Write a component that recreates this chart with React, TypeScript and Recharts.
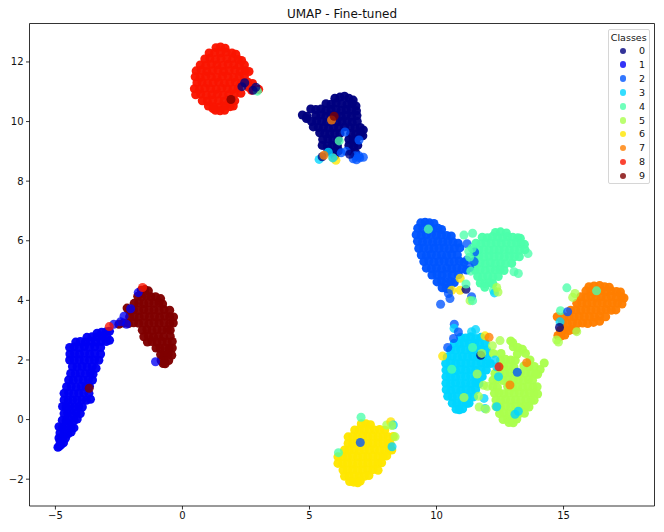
import React from 'react';
import { ScatterChart, Scatter, XAxis, YAxis, ZAxis, ReferenceArea, Cell } from 'recharts';

type P = [number, number];

const classNames = ['0', '1', '2', '3', '4', '5', '6', '7', '8', '9'];
const classColors = ['#00007f', '#0000f5', '#0055ff', '#00d5ff', '#4cffaa', '#aaff4d', '#ffe600', '#ff7e00', '#fa1500', '#7f0000'];
const xTicks = [-5, 0, 5, 10, 15];
const yTicks = [-2, 0, 2, 4, 6, 8, 10, 12];

const class0: P[] = [
[6.0,10.78],[6.2,10.82],[6.38,10.85],[6.55,10.78],[6.72,10.72],
[5.65,10.6],[5.85,10.58],[6.05,10.62],[6.27,10.6],[6.48,10.58],[6.68,10.6],[6.83,10.52],
[5.05,10.42],[5.25,10.4],[5.45,10.42],[5.65,10.38],[5.85,10.4],[6.05,10.4],[6.25,10.38],[6.45,10.4],[6.65,10.38],[6.85,10.36],
[4.72,10.22],[4.9,10.18],[5.25,10.2],[5.45,10.22],[5.65,10.18],[5.85,10.2],[6.05,10.2],[6.25,10.18],[6.45,10.2],[6.65,10.18],[6.87,10.2],
[4.88,10.1],[5.08,10.0],[5.28,10.02],[5.48,10.0],[5.68,9.98],[5.88,10.0],[6.08,9.98],[6.28,10.0],[6.48,10.0],[6.68,9.98],[6.88,10.0],
[5.15,9.82],[5.35,9.8],[5.55,9.8],[5.75,9.78],[5.95,9.8],[6.15,9.8],[6.38,9.82],[6.6,9.8],[6.8,9.78],[7.0,9.8],[7.12,9.72],
[5.4,9.62],[5.6,9.6],[5.8,9.58],[6.0,9.6],[6.2,9.6],[6.62,9.6],[6.82,9.58],[7.02,9.6],[7.1,9.52],
[5.52,9.4],[5.72,9.42],[5.92,9.38],[6.12,9.4],[6.55,9.4],[6.72,9.38],[6.85,9.42],
[5.5,9.2],[5.7,9.18],[5.9,9.2],[6.1,9.18],[6.55,9.2],[6.75,9.18],[6.9,9.2],
[5.78,9.0],[5.98,8.98],[6.15,9.02],[6.62,9.0],[6.82,8.95],[6.0,8.85],[5.72,9.05]
];

const class1: P[] = [
[-4.9,-0.93],[-4.85,-0.9],[-4.78,-0.85],[-4.68,-0.78],[-4.82,-0.72],
[-4.86,-0.62],[-4.72,-0.66],[-4.6,-0.62],[-4.82,-0.45],[-4.65,-0.46],[-4.5,-0.48],[-4.38,-0.42],
[-4.86,-0.24],[-4.72,-0.26],[-4.55,-0.22],[-4.38,-0.25],[-4.27,-0.28],
[-4.73,-0.02],[-4.58,-0.04],[-4.42,0.0],[-4.26,-0.03],[-4.14,0.02],
[-4.66,0.2],[-4.52,0.22],[-4.35,0.2],[-4.18,0.22],[-4.02,0.2],
[-4.72,0.44],[-4.58,0.42],[-4.42,0.45],[-4.25,0.42],[-4.08,0.44],[-3.94,0.42],
[-4.66,0.66],[-4.5,0.64],[-4.32,0.66],[-4.14,0.65],[-3.96,0.67],[-3.78,0.65],[-3.62,0.68],
[-4.66,0.88],[-4.48,0.9],[-4.28,0.87],[-4.08,0.88],[-3.88,0.9],[-3.68,0.88],
[-4.56,1.1],[-4.38,1.12],[-4.18,1.08],[-3.98,1.12],[-3.8,1.1],[-3.66,1.12],
[-4.48,1.33],[-4.3,1.32],[-4.1,1.35],[-3.9,1.32],[-3.7,1.34],[-3.54,1.33],
[-4.4,1.55],[-4.22,1.54],[-4.02,1.56],[-3.82,1.54],[-3.62,1.56],[-3.52,1.52],
[-4.33,1.78],[-4.15,1.77],[-3.95,1.79],[-3.75,1.76],[-3.55,1.78],[-3.4,1.72],
[-4.44,2.0],[-4.26,1.99],[-4.06,2.01],[-3.86,1.98],[-3.66,2.0],[-3.46,2.0],[-3.29,1.99],
[-4.43,2.2],[-4.25,2.22],[-4.05,2.2],[-3.85,2.23],[-3.65,2.2],[-3.45,2.22],[-3.22,2.2],
[-4.44,2.42],[-4.26,2.44],[-4.06,2.42],[-3.86,2.45],[-3.66,2.43],[-3.45,2.44],[-3.22,2.42],
[-4.2,2.6],[-4.02,2.62],[-3.82,2.6],[-3.62,2.63],[-3.42,2.6],[-3.2,2.62],[-3.0,2.62],[-2.87,2.66],
[-3.76,2.76],[-3.56,2.78],[-3.36,2.78],[-3.16,2.8],[-2.98,2.78],[-3.36,2.9],[-3.18,2.93],[-3.0,2.95],[-2.87,2.96]
];

const class2: P[] = [
[9.38,6.6],[9.55,6.62],[9.72,6.6],[9.9,6.58],
[9.26,6.42],[9.46,6.4],[9.66,6.44],[9.86,6.4],[10.06,6.42],[10.2,6.38],
[9.2,6.2],[9.4,6.18],[9.6,6.2],[9.8,6.22],[10.0,6.18],[10.2,6.2],[10.4,6.18],[10.58,6.16],
[9.25,5.98],[9.45,5.96],[9.65,5.98],[9.85,5.95],[10.05,5.98],[10.25,5.96],[10.45,5.98],[10.65,5.96],[10.85,5.92],
[9.3,5.74],[9.5,5.76],[9.7,5.72],[9.9,5.75],[10.1,5.74],[10.3,5.76],[10.5,5.72],[10.7,5.74],[10.92,5.76],
[9.4,5.52],[9.6,5.5],[9.8,5.54],[10.0,5.5],[10.2,5.52],[10.4,5.5],[10.6,5.54],[10.82,5.52],
[9.5,5.3],[9.7,5.32],[9.9,5.28],[10.1,5.3],[10.3,5.32],[10.5,5.28],[10.7,5.3],[10.9,5.32],[11.08,5.28],
[9.6,5.08],[9.8,5.06],[10.0,5.08],[10.2,5.05],[10.4,5.08],[10.6,5.06],[10.8,5.08],[11.0,5.06],[11.18,5.02],
[9.82,4.85],[10.02,4.86],[10.22,4.84],[10.42,4.87],[10.62,4.85],[10.86,4.86],
[10.02,4.62],[10.2,4.64],[10.38,4.6],[10.55,4.63],[10.7,4.6],
[10.22,4.42],[10.38,4.4],[10.5,4.38]
];

const class3: P[] = [
[10.95,2.76],[11.15,2.74],[11.35,2.78],[11.55,2.72],[11.75,2.76],
[10.7,2.56],[10.9,2.54],[11.1,2.57],[11.3,2.55],[11.5,2.56],[11.7,2.53],[11.92,2.56],
[10.55,2.34],[10.75,2.32],[10.95,2.35],[11.15,2.33],[11.35,2.34],[11.55,2.32],[11.75,2.35],[11.98,2.33],
[10.42,2.1],[10.62,2.12],[10.82,2.09],[11.02,2.12],[11.22,2.1],[11.42,2.12],[11.62,2.09],[11.82,2.12],[11.98,2.1],
[10.36,1.88],[10.56,1.9],[10.76,1.87],[10.96,1.9],[11.16,1.88],[11.36,1.9],[11.56,1.87],[11.76,1.9],[11.96,1.88],[12.12,1.88],
[10.37,1.66],[10.55,1.67],[10.75,1.65],[10.95,1.68],[11.15,1.66],[11.35,1.67],[11.55,1.65],[11.75,1.68],[11.96,1.66],
[10.37,1.44],[10.55,1.45],[10.75,1.43],[10.95,1.46],[11.15,1.44],[11.35,1.45],[11.55,1.43],[11.8,1.44],
[10.37,1.22],[10.55,1.2],[10.75,1.23],[10.95,1.2],[11.15,1.22],[11.35,1.2],[11.55,1.23],[11.68,1.2],
[10.38,1.0],[10.56,0.98],[10.76,1.01],[10.96,0.98],[11.16,1.0],[11.36,0.98],[11.54,1.0],
[10.44,0.78],[10.62,0.76],[10.82,0.79],[11.02,0.76],[11.22,0.78],[11.46,0.76],
[10.62,0.55],[10.8,0.53],[11.0,0.56],[11.18,0.54],[11.28,0.55],
[10.77,0.35],[10.9,0.33],[11.03,0.36]
];

const class4: P[] = [
[12.32,6.28],[12.52,6.3],[12.75,6.26],
[11.8,6.12],[12.0,6.1],[12.2,6.14],[12.4,6.12],[12.6,6.1],[12.8,6.14],[13.0,6.12],[13.2,6.1],[13.3,6.08],
[11.55,5.92],[11.75,5.9],[11.95,5.93],[12.15,5.9],[12.35,5.92],[12.55,5.9],[12.75,5.93],[12.95,5.9],[13.15,5.92],[13.33,5.9],[13.46,5.88],
[11.47,5.7],[11.67,5.68],[11.87,5.71],[12.07,5.68],[12.27,5.7],[12.47,5.68],[12.67,5.71],[12.87,5.68],[13.07,5.7],[13.27,5.68],[13.48,5.7],
[11.47,5.46],[11.67,5.48],[11.87,5.45],[12.07,5.48],[12.27,5.46],[12.47,5.48],[12.67,5.45],[12.87,5.48],[13.07,5.46],[13.26,5.46],
[11.52,5.24],[11.72,5.25],[11.92,5.23],[12.12,5.26],[12.32,5.24],[12.52,5.25],[12.72,5.23],[12.96,5.24],
[11.52,5.02],[11.72,5.03],[11.92,5.01],[12.12,5.04],[12.32,5.02],[12.5,5.03],[12.66,5.0],
[11.62,4.8],[11.82,4.78],[12.02,4.81],[12.22,4.78],[12.43,4.8],
[11.72,4.58],[11.9,4.56],[12.08,4.59],[12.22,4.56],[11.9,4.44]
];

const class5: P[] = [
[12.92,2.64],[13.0,2.58],[13.02,2.44],[13.2,2.42],[13.38,2.36],
[12.24,2.22],[12.54,2.22],[13.18,2.2],[13.5,2.22],[12.52,2.0],[12.72,2.02],[12.92,2.0],[13.1,1.98],[13.68,2.0],
[12.65,1.78],[12.85,1.8],[13.05,1.76],[13.44,1.8],[13.64,1.76],[13.85,1.78],[14.24,1.9],[14.08,1.68],[13.98,1.52],
[12.3,1.55],[12.5,1.56],[12.7,1.54],[12.9,1.57],[13.1,1.55],[13.3,1.56],[13.5,1.54],[13.72,1.56],[13.9,1.52],
[12.22,1.32],[12.4,1.34],[12.62,1.31],[12.82,1.34],[13.02,1.32],[13.22,1.34],[13.42,1.31],[13.62,1.34],[13.78,1.32],
[12.22,1.1],[12.4,1.08],[12.8,1.11],[13.0,1.08],[13.2,1.1],[13.4,1.08],[13.6,1.11],[13.8,1.08],[13.96,1.1],
[12.28,0.88],[12.46,0.9],[12.66,0.87],[12.86,0.9],[13.06,0.88],[13.26,0.9],[13.46,0.87],[13.66,0.9],[13.84,0.88],[13.98,0.86],
[12.34,0.66],[12.52,0.64],[12.72,0.67],[12.92,0.64],[13.12,0.66],[13.32,0.64],[13.52,0.67],[13.72,0.64],[13.84,0.65],
[12.34,0.44],[12.52,0.42],[12.72,0.45],[12.92,0.42],[13.12,0.44],[13.32,0.42],[13.52,0.45],[13.64,0.42],
[12.48,0.2],[12.66,0.21],[12.86,0.19],[13.06,0.22],[13.26,0.2],[13.46,0.21],
[12.62,0.0],[12.8,0.01],[13.0,-0.01],[13.16,0.02],[12.85,-0.1],[13.02,-0.11]
];

const class6: P[] = [
[7.04,-0.14],[7.22,-0.14],[7.4,-0.17],
[6.78,-0.35],[6.96,-0.33],[7.16,-0.36],[7.36,-0.33],[7.56,-0.35],[7.76,-0.33],[7.96,-0.36],
[6.52,-0.58],[6.7,-0.56],[6.9,-0.59],[7.1,-0.56],[7.3,-0.58],[7.5,-0.56],[7.7,-0.59],[7.9,-0.56],[8.1,-0.58],[8.3,-0.57],
[6.52,-0.8],[6.7,-0.81],[6.9,-0.79],[7.1,-0.82],[7.3,-0.8],[7.5,-0.81],[7.7,-0.79],[7.9,-0.82],[8.1,-0.8],[8.18,-0.82],
[6.38,-1.02],[6.56,-1.03],[6.76,-1.01],[6.96,-1.04],[7.16,-1.02],[7.36,-1.03],[7.56,-1.01],[7.76,-1.04],[7.96,-1.02],[8.14,-1.03],[8.24,-1.02],
[6.12,-1.25],[6.3,-1.24],[6.5,-1.26],[6.7,-1.23],[6.9,-1.25],[7.1,-1.24],[7.3,-1.26],[7.5,-1.23],[7.7,-1.25],[7.9,-1.24],[8.04,-1.22],
[6.12,-1.47],[6.3,-1.48],[6.5,-1.46],[6.7,-1.49],[6.9,-1.47],[7.1,-1.48],[7.3,-1.46],[7.5,-1.49],[7.7,-1.47],[7.84,-1.45],
[6.32,-1.69],[6.5,-1.7],[6.7,-1.68],[6.9,-1.71],[7.1,-1.69],[7.3,-1.7],[7.5,-1.68],[7.7,-1.7],
[6.38,-1.9],[6.56,-1.91],[6.76,-1.89],[6.96,-1.92],[7.16,-1.9],[7.34,-1.88],
[6.58,-2.08],[6.74,-2.1],[6.9,-2.12],[7.0,-2.06]
];

const class7: P[] = [
[16.0,4.46],[16.2,4.48],[16.42,4.5],[16.62,4.46],[16.8,4.44],
[15.88,4.32],[16.08,4.3],[16.28,4.28],[16.48,4.32],[16.68,4.3],[16.88,4.32],[17.08,4.3],[17.24,4.28],
[15.68,4.12],[15.88,4.1],[16.08,4.13],[16.28,4.1],[16.48,4.12],[16.68,4.1],[16.88,4.13],[17.08,4.1],[17.28,4.12],[17.38,4.08],
[15.52,3.9],[15.72,3.92],[15.92,3.89],[16.12,3.92],[16.32,3.9],[16.52,3.92],[16.72,3.89],[16.92,3.92],[17.12,3.9],[17.3,3.88],
[15.28,3.67],[15.48,3.68],[15.68,3.66],[15.88,3.69],[16.08,3.67],[16.28,3.68],[16.48,3.66],[16.68,3.69],[16.88,3.67],[17.06,3.68],
[15.02,3.45],[15.22,3.46],[15.42,3.44],[15.62,3.47],[15.82,3.45],[16.02,3.46],[16.22,3.44],[16.42,3.47],[16.66,3.45],
[14.95,3.24],[15.15,3.22],[15.35,3.25],[15.55,3.22],[15.75,3.24],[15.95,3.22],[16.18,3.26],[16.42,3.3],
[14.88,3.0],[15.05,3.02],[15.22,2.99],[15.38,3.02],[15.48,3.0],
[14.78,2.82],[14.9,2.8],[15.05,2.84],[14.75,3.45]
];

const class8: P[] = [
[1.32,12.48],[1.5,12.5],[1.68,12.46],
[1.05,12.3],[1.27,12.32],[1.5,12.3],[1.72,12.33],[1.95,12.3],[2.1,12.26],
[0.88,12.1],[1.08,12.12],[1.3,12.08],[1.52,12.12],[1.75,12.1],[1.98,12.12],[2.2,12.08],[2.33,12.05],
[0.7,11.9],[0.92,11.88],[1.14,11.92],[1.36,11.9],[1.58,11.88],[1.8,11.92],[2.02,11.9],[2.24,11.88],[2.44,11.9],
[0.54,11.7],[0.74,11.72],[0.96,11.68],[1.18,11.7],[1.4,11.72],[1.62,11.68],[1.84,11.7],[2.06,11.72],[2.28,11.68],[2.48,11.7],[2.62,11.68],
[0.5,11.5],[0.7,11.48],[0.92,11.52],[1.14,11.5],[1.36,11.48],[1.58,11.52],[1.8,11.5],[2.02,11.48],[2.24,11.52],[2.44,11.5],
[0.57,11.3],[0.77,11.32],[0.99,11.28],[1.21,11.3],[1.43,11.32],[1.65,11.28],[1.87,11.3],[2.09,11.32],[2.31,11.28],[2.58,11.32],[2.76,11.28],
[0.47,11.1],[0.67,11.08],[0.89,11.12],[1.11,11.1],[1.33,11.08],[1.55,11.12],[1.77,11.1],[1.99,11.08],[2.2,11.12],[2.6,11.15],[2.72,11.05],[3.0,11.08],
[0.52,10.9],[0.72,10.92],[0.94,10.88],[1.16,10.9],[1.38,10.92],[1.6,10.88],[1.82,10.9],[2.04,10.92],[2.3,10.95],
[0.78,10.7],[0.98,10.68],[1.2,10.72],[1.42,10.7],[1.64,10.68],[1.86,10.72],[2.06,10.7],
[1.02,10.52],[1.22,10.5],[1.44,10.48],[1.66,10.52],[1.88,10.5],[2.0,10.52],
[1.3,10.38],[1.48,10.36],[1.66,10.38],[1.2,10.44]
];

const class9: P[] = [
[-1.62,4.34],[-1.48,4.36],[-1.34,4.32],
[-1.76,4.14],[-1.6,4.12],[-1.42,4.15],[-1.24,4.12],[-1.06,4.12],[-0.86,4.06],
[-1.9,3.9],[-1.72,3.92],[-1.52,3.89],[-1.32,3.92],[-1.12,3.9],[-0.92,3.92],[-0.78,3.88],
[-2.18,3.74],[-2.1,3.67],[-1.92,3.68],[-1.72,3.66],[-1.52,3.69],[-1.32,3.67],[-1.12,3.68],[-0.92,3.66],[-0.72,3.69],[-0.5,3.67],
[-2.08,3.45],[-1.9,3.46],[-1.7,3.44],[-1.5,3.47],[-1.3,3.45],[-1.1,3.46],[-0.9,3.44],[-0.7,3.47],[-0.5,3.45],[-0.35,3.44],
[-2.5,3.2],[-2.32,3.24],[-2.12,3.22],[-1.92,3.25],[-1.72,3.23],[-1.52,3.24],[-1.32,3.22],[-1.12,3.25],[-0.92,3.23],[-0.72,3.24],[-0.5,3.22],[-0.36,3.24],
[-1.58,3.0],[-1.4,3.02],[-1.2,2.99],[-1.0,3.02],[-0.8,3.0],[-0.6,3.02],[-0.48,3.0],
[-1.52,2.78],[-1.34,2.8],[-1.14,2.77],[-0.94,2.8],[-0.74,2.78],[-0.48,2.8],
[-1.38,2.6],[-1.2,2.62],[-1.0,2.59],[-0.8,2.62],[-0.6,2.6],[-0.4,2.62],
[-1.04,2.4],[-0.88,2.38],[-0.7,2.41],[-0.52,2.38],[-0.4,2.4],
[-0.86,2.18],[-0.72,2.16],[-0.56,2.19],[-0.42,2.16],
[-0.84,1.98],[-0.7,1.96],[-0.54,1.98],[-0.76,1.88],[-0.68,1.87]
];

// Points of one class that landed inside or beside another class's cloud: [x, y, class]
const strays: [number, number, number][] = [
[2.95,11.02,4],[2.34,11.17,0],[2.78,11.05,0],[2.89,11.15,0],[2.45,11.3,0],[1.91,10.74,9],
[5.38,8.73,3],[5.92,8.78,6],[6.04,8.7,6],[5.92,8.78,3],[5.74,8.97,3],[5.5,8.82,0],[5.57,8.87,7],[6.17,9.35,4],[5.87,10.05,7],[5.97,10.18,9],
[6.95,9.38,2],[6.4,9.65,2],[6.25,8.95,2],[6.45,9.0,2],[6.72,8.75,2],[6.85,8.72,2],[6.98,8.78,2],[7.12,8.8,2],[6.8,8.85,2],[6.95,8.85,2],[6.58,8.9,0],
[9.68,6.39,4],[11.08,6.19,4],[11.42,6.25,4],[13.05,4.96,4],[13.22,4.9,4],[13.6,5.57,4],[12.24,4.34,4],
[11.19,5.35,2],[11.48,5.3,2],[11.2,5.9,2],[11.5,5.62,2],[11.4,5.75,4],[11.3,5.1,2],[11.35,4.98,4],[11.27,5.65,4],[11.3,5.45,4],
[10.6,4.34,6],[10.93,4.34,6],[10.93,4.74,6],[10.47,4.23,2],[10.53,4.06,2],[10.16,3.87,2],[11.38,4.12,2],[11.16,4.37,0],[11.16,4.55,4],[11.32,3.99,5],[11.42,3.99,4],
[12.28,4.25,3],[12.37,4.43,5],[12.42,4.28,5],
[15.13,4.42,4],[15.45,4.23,5],[15.36,4.1,5],[16.3,4.32,4],[14.73,2.67,5],[14.8,2.6,5],[15.52,2.95,5],
[14.88,3.65,4],[14.86,3.28,3],[15.16,3.62,2],[14.84,3.09,0],
[10.7,3.2,2],[10.69,3.06,3],[11.54,3.02,3],[11.38,2.95,3],[10.86,2.94,2],[10.67,2.72,2],[10.44,2.42,2],[10.24,2.13,6],[11.91,2.81,6],[12.07,2.76,7],[11.74,2.16,0],[11.78,2.22,5],
[12.3,2.0,3],[12.37,1.77,3],[12.44,1.44,3],[11.87,0.71,3],[11.91,0.37,3],[12.37,0.43,3],[11.68,0.42,5],[11.95,0.35,5],
[10.6,1.69,4],[11.6,1.53,5],[11.08,0.74,5],[11.65,0.78,5],[11.85,1.15,5],[12.0,1.12,5],[11.42,2.42,4],
[13.55,1.91,7],[12.89,1.16,7],[12.46,1.77,8],[13.18,1.59,2],[13.09,0.18,3],[13.22,0.28,3],
[12.5,2.65,5],[12.2,2.48,5],
[7.03,0.08,4],[8.04,-0.18,5],[8.2,-0.07,6],[8.3,-0.18,3],[8.24,-0.2,5],[8.25,-0.91,3],[6.14,-1.11,4],[8.37,-0.58,5],[7.0,-0.77,2],
[-2.7,3.2,1],[-2.3,3.47,1],[-2.04,3.72,1],[-2.44,3.28,1],[-1.06,1.94,1],[-1.74,4.26,1],[-2.2,3.2,1],[-3.67,1.05,9],[-2.88,3.12,8],[-1.57,4.43,8]
];

const classData = [class0, class1, class2, class3, class4, class5, class6, class7, class8, class9];
const toRows = (pts: P[]) => pts.map(([x, y]) => ({ x, y }));
const strayRows = strays.map(([x, y, c]) => ({ x, y, c }));
const FONT = '"DejaVu Sans", sans-serif';
const fmt = (v: number) => String(v).replace('-', '\u2212');

function LegendBox() {
  return (
    <div style={{ position: 'absolute', left: 607.5, top: 28.5, width: 42.5, height: 155.5, boxSizing: 'border-box', background: 'rgba(255,255,255,0.85)', border: '1px solid #d6d6d6', borderRadius: 2, fontFamily: FONT, fontSize: 9.5, color: '#111' }}>
      <div style={{ position: 'absolute', top: 2, left: 0, width: '100%', textAlign: 'center' }}>Classes</div>
      {classNames.map((n, i) => (
        <div key={n} style={{ position: 'absolute', left: 0, top: 15.5 + i * 13.9, height: 12, width: '100%' }}>
          <span style={{ position: 'absolute', left: 11, top: 2.5, width: 6.5, height: 6.5, borderRadius: '50%', background: classColors[i], opacity: 0.8 }} />
          <span style={{ position: 'absolute', left: 30.5 }}>{n}</span>
        </div>
      ))}
    </div>
  );
}

export default function App() {
  return (
    <div style={{ position: 'absolute', left: 0, top: 0, width: 664, height: 532 }}>
      <ScatterChart width={664} height={532} margin={{ top: 23.5, right: 9.5, bottom: 0, left: 0 }}>
        <XAxis type="number" dataKey="x" domain={[-6.02, 18.58]} ticks={xTicks} allowDataOverflow height={26} tickSize={3.5} tickMargin={2.5} tickFormatter={fmt} axisLine={false} tickLine={{ stroke: '#000', strokeWidth: 0.8 }} tick={{ fontFamily: FONT, fontSize: 10, fill: '#111' }} />
        <YAxis type="number" dataKey="y" domain={[-2.9, 13.29]} ticks={yTicks} allowDataOverflow width={29.5} tickSize={3.5} tickMargin={2.5} tickFormatter={fmt} axisLine={false} tickLine={{ stroke: '#000', strokeWidth: 0.8 }} tick={{ fontFamily: FONT, fontSize: 10, fill: '#111' }} />
        <ZAxis zAxisId="cloud" range={[46, 46]} />
        <ZAxis zAxisId="stray" range={[34, 34]} />
        {classData.map((pts, i) => (
          <Scatter key={classNames[i]} zAxisId="cloud" name={classNames[i]} data={toRows(pts)} fill={classColors[i]} fillOpacity={0.97} isAnimationActive={false} />
        ))}
        <Scatter name="strays" zAxisId="stray" data={strayRows} fillOpacity={0.78} isAnimationActive={false}>
          {strayRows.map((r, i) => (
            <Cell key={i} fill={classColors[r.c]} />
          ))}
        </Scatter>
        <ReferenceArea x1={-6.02} x2={18.58} y1={-2.9} y2={13.29} fill="none" stroke="#000" strokeWidth={0.8} ifOverflow="visible" />
        <text x={342} y={18} textAnchor="middle" fontFamily={FONT} fontSize={12} fill="#111">UMAP - Fine-tuned</text>
      </ScatterChart>
      <LegendBox />
    </div>
  );
}
